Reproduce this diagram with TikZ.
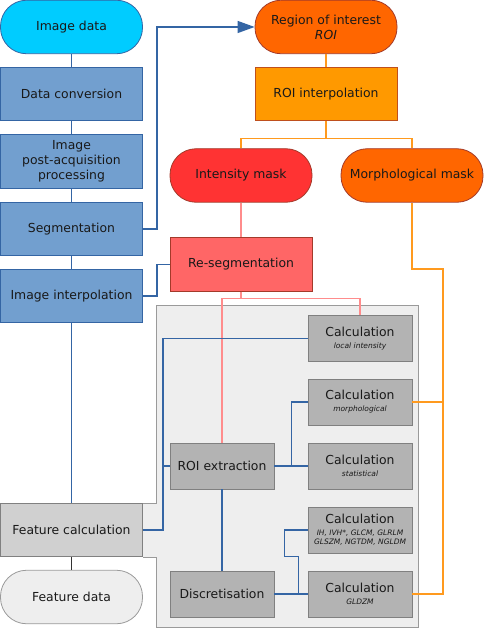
\documentclass[tikz,border=0pt]{standalone}
\usepackage{fontspec}
\setmainfont{DejaVu Sans}
\usetikzlibrary{arrows.meta}

\definecolor{blueFill}{HTML}{729FCF}
\definecolor{blueLine}{HTML}{3465A4}
\definecolor{cyanFill}{HTML}{00CCFF}
\definecolor{roiFill}{HTML}{FF6600}
\definecolor{interpFill}{HTML}{FF9900}
\definecolor{redLine}{HTML}{A33A2A}
\definecolor{intFill}{HTML}{FF3333}
\definecolor{resegFill}{HTML}{FF6666}
\definecolor{pinkLine}{HTML}{FF8C8C}
\definecolor{orangeLine}{HTML}{FF9A1E}
\definecolor{calcFill}{HTML}{B3B3B3}
\definecolor{calcLine}{HTML}{808080}
\definecolor{panelFill}{HTML}{EEEEEE}
\definecolor{panelLine}{HTML}{9A9A9A}
\definecolor{featFill}{HTML}{D0D0D0}

\newcommand{\calcsub}[1]{{\fontsize{7.5}{8.7}\selectfont\itshape #1}}

\begin{document}
\begin{tikzpicture}[x=1pt,y=-1pt,
    every node/.style={inner sep=0pt,align=center,text=black!90,
        font=\fontsize{12.4}{15}\selectfont},
    box/.style={draw,line width=0.8pt,minimum width=142pt,minimum height=53.5pt},
    pill/.style={box,rounded corners=26pt},
    calc/.style={draw=calcLine,fill=calcFill,line width=0.8pt,
        minimum width=104pt,minimum height=46pt},
    blueConn/.style={draw=blueLine,line width=1.2pt},
    pinkConn/.style={draw=pinkLine,line width=1.2pt},
    orangeConn/.style={draw=orangeLine,line width=1.2pt}
    ]
    \useasboundingbox (0,0) rectangle (483,628);

    % grey panel round the calculations
    \filldraw[fill=panelFill,draw=panelLine,line width=0.8pt]
        (143,503) -- (156.5,503) -- (156.5,305) -- (418,305) -- (418,627)
        -- (156.5,627) -- (156.5,557) -- (143,557);

    % left column
    \node[pill,fill=cyanFill,draw=blueLine] (imgdata) at (71.5,27) {Image data};
    \node[box,fill=blueFill,draw=blueLine] (dataconv) at (71.5,94) {Data conversion};
    \node[box,fill=blueFill,draw=blueLine] (postacq) at (71.5,161.5) {Image\\post-acquisition\\processing};
    \node[box,fill=blueFill,draw=blueLine] (segm) at (71.5,229) {Segmentation};
    \node[box,fill=blueFill,draw=blueLine] (imginterp) at (71.5,296) {Image interpolation};
    \node[box,fill=featFill,draw=calcLine] (featcalc) at (71.5,530) {Feature calculation};
    \node[pill,fill=panelFill,draw=panelLine] (featdata) at (71.5,597) {Feature data};

    % mask column
    \node[pill,fill=roiFill,draw=redLine] (roi) at (326,27) {Region of interest\\\textit{ROI}};
    \node[box,fill=interpFill,draw=redLine!70!orange] (roiinterp) at (326,94) {ROI interpolation};
    \node[pill,fill=intFill,draw=redLine] (intmask) at (241,175.5) {Intensity mask};
    \node[pill,fill=roiFill,draw=redLine] (morphmask) at (412,175.5) {Morphological mask};
    \node[box,fill=resegFill,draw=redLine] (reseg) at (241,264.5) {Re-segmentation};

    % calculation boxes
    \node[calc] (roiext) at (222,466) {ROI extraction};
    \node[calc] (discr) at (222,594) {Discretisation};
    \node[calc] (cLocal) at (360,338.7) {Calculation\\[-3pt]\calcsub{local intensity}};
    \node[calc] (cMorph) at (360,402) {Calculation\\[-3pt]\calcsub{morphological}};
    \node[calc] (cStat) at (360,466) {Calculation\\[-3pt]\calcsub{statistical}};
    \node[calc] (cTex) at (360,530) {Calculation\\[-3pt]\calcsub{IH, IVH*, GLCM, GLRLM}\\[-6pt]\calcsub{GLSZM, NGTDM, NGLDM}};
    \node[calc] (cGldzm) at (360,594) {Calculation\\[-3pt]\calcsub{GLDZM}};

    % image pipeline
    \draw[blueConn] (imgdata) -- (dataconv);
    \draw[blueConn] (dataconv) -- (postacq);
    \draw[blueConn] (postacq) -- (segm);
    \draw[blueConn] (segm) -- (imginterp);
    \draw[blueConn] (imginterp) -- (featcalc);
    \draw[draw=black!80,line width=1.2pt] (featcalc) -- (featdata);
    \draw[blueConn,-{Triangle[length=17pt,width=12pt]}] (segm.east) -- ++(14,0) |- (roi.west);
    \draw[blueConn] (imginterp.east) -- ++(14,0) |- (reseg.west);

    % masks
    \draw[orangeConn] (roi) -- (roiinterp);
    \draw[orangeConn] (roiinterp.south) -- ++(0,17) coordinate (obus) -| (intmask.north);
    \draw[orangeConn] (obus) -| (morphmask.north);
    \coordinate (obend) at (443,269);
    \draw[orangeConn] (morphmask.south) |- (obend) |- (cGldzm.east);
    \draw[orangeConn] (cMorph.east) -- (cMorph.east -| obend);
    \draw[pinkConn] (intmask) -- (reseg);
    \draw[pinkConn] (reseg.south) -- ++(0,7) coordinate (pbus);
    \draw[pinkConn] (roiext.north) |- (pbus) -| (cLocal.north);

    % feature calculation
    \draw[blueConn] (featcalc.east) -- ++(20,0) coordinate (fbus) |- (cLocal.west);
    \draw[blueConn] (fbus |- roiext.west) -- (roiext.west);
    \draw[blueConn] (roiext.east) -- (cStat.west);
    \draw[blueConn] (roiext.east) -- ++(17,0) |- (cMorph.west);
    \draw[blueConn] (roiext) -- (discr);
    \draw[blueConn] (discr.east) -- (cGldzm.west);
    \draw[blueConn] (discr.east) -- ++(24,0) |- ++(-14,-37.5) |- (cTex.west);
\end{tikzpicture}
\end{document}
